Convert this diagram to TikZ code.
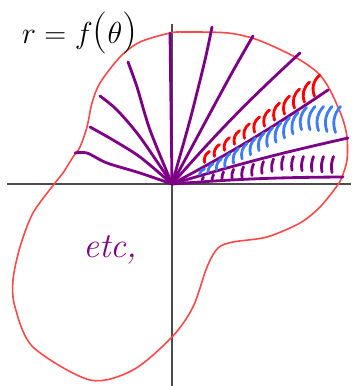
\documentclass[tikz,border=0pt]{standalone}
\usepackage{amsmath,amssymb}
\usepackage{tikz}
\definecolor{inkpurple}{RGB}{125,0,135}
\definecolor{inkblue}{RGB}{60,125,245}
\definecolor{curvered}{RGB}{255,70,70}

\begin{document}
\begin{tikzpicture}[every node/.style={font=\small},
	axis/.style={black!70, line width=1.2pt},
	ray/.style={inkpurple, line width=1.6pt, line cap=round},
	hatch/.style={line width=1.6pt, line cap=round}]
	\useasboundingbox (-3.44,-4.04) rectangle (3.58,3.68);
	\coordinate (O) at (0,0);
	\draw[axis] (-3.30,0) -- (3.58,0);
	\draw[axis] (0,-4.04) -- (0,3.20);
	% the curve r = f(theta)
	\draw[curvered, line width=0.9pt] plot[smooth cycle] coordinates {(-2.34,0.02) (-2.18,0.22) (-1.98,0.54) (-1.84,0.74) (-1.70,1.14) (-1.60,1.62) (-1.44,2.02) (-1.04,2.54) (-0.64,2.84) (-0.04,3.02) (0.26,3.04) (1.12,3.02) (1.72,2.88) (2.46,2.54) (2.92,2.22) (3.16,1.88) (3.40,1.34) (3.50,0.94) (3.50,0.48) (3.40,0.14) (3.30,-0.04) (2.96,-0.46) (2.56,-0.78) (1.90,-1.06) (1.22,-1.16) (0.92,-1.28) (0.70,-1.66) (0.42,-2.46) (0.00,-3.06) (-0.78,-3.72) (-1.64,-3.92) (-2.78,-3.26) (-3.14,-2.46) (-3.18,-1.92) (-3.04,-1.26) (-2.78,-0.58)};
	% rays from the pole
	\draw[ray] plot[smooth] coordinates {(O) (-0.64,0.22) (-1.30,0.42) (-1.70,0.62) (-1.94,0.62)};
	\draw[ray] plot[smooth] coordinates {(O) (-0.64,0.54) (-1.18,0.88) (-1.64,1.14)};
	\draw[ray] plot[smooth] coordinates {(O) (-0.64,0.94) (-1.10,1.48) (-1.44,1.76)};
	\draw[ray] plot[smooth] coordinates {(O) (-0.44,1.08) (-0.70,1.94) (-0.88,2.44)};
	\draw[ray] (O) -- (-0.04,3.02);
	\draw[ray] plot[smooth] coordinates {(O) (0.36,1.28) (0.66,2.48) (0.80,3.14)};
	\draw[ray] plot[smooth] coordinates {(O) (1.12,2.08) (1.62,2.96)};
	\draw[ray] (O) to[bend left=3] (2.56,2.62);
	\draw[ray] (O) to[bend right=3] (3.12,1.88);
	\draw[ray] (O) to[bend left=2] (3.52,0.92);
	\draw[ray] (O) to[bend left=2] (3.42,0.14);
	% hatching of the slices
	\foreach \x in {0.65,0.85,...,2.9}
		\draw[hatch, red] ({\x+0.1},{0.603*\x+0.2+0.09*\x}) to[bend right=35] (\x,{0.603*\x+0.04});
	\foreach \x in {0.55,0.72,...,3.35}
		\draw[hatch, inkblue] ({\x+0.1},{min(0.603*\x-0.03,1.55)}) to[bend right=30] (\x,{max(min(0.603*\x-0.03,1.55)-0.16-0.11*\x,0.261*\x+0.05)});
	\foreach \x in {0.6,0.8,...,3.25}
		\draw[hatch, inkpurple] ({\x+0.03},{min(0.261*\x-0.02,0.55)}) to[bend right=15] (\x,{max(min(0.261*\x-0.02,0.55)-0.13-0.06*\x,0.041*\x+0.06)});
	\node[font=\fontsize{17}{20}\selectfont] (title) at (-1.85,3.02) {$r=f\mathopen{\text{\fontsize{24}{24}\selectfont(}}\theta\mathclose{\text{\fontsize{24}{24}\selectfont)}}$};
	\node[inkpurple, font=\fontsize{20}{24}\selectfont\itshape] (etc) at (-1.24,-1.32) {etc,};
\end{tikzpicture}
\end{document}
